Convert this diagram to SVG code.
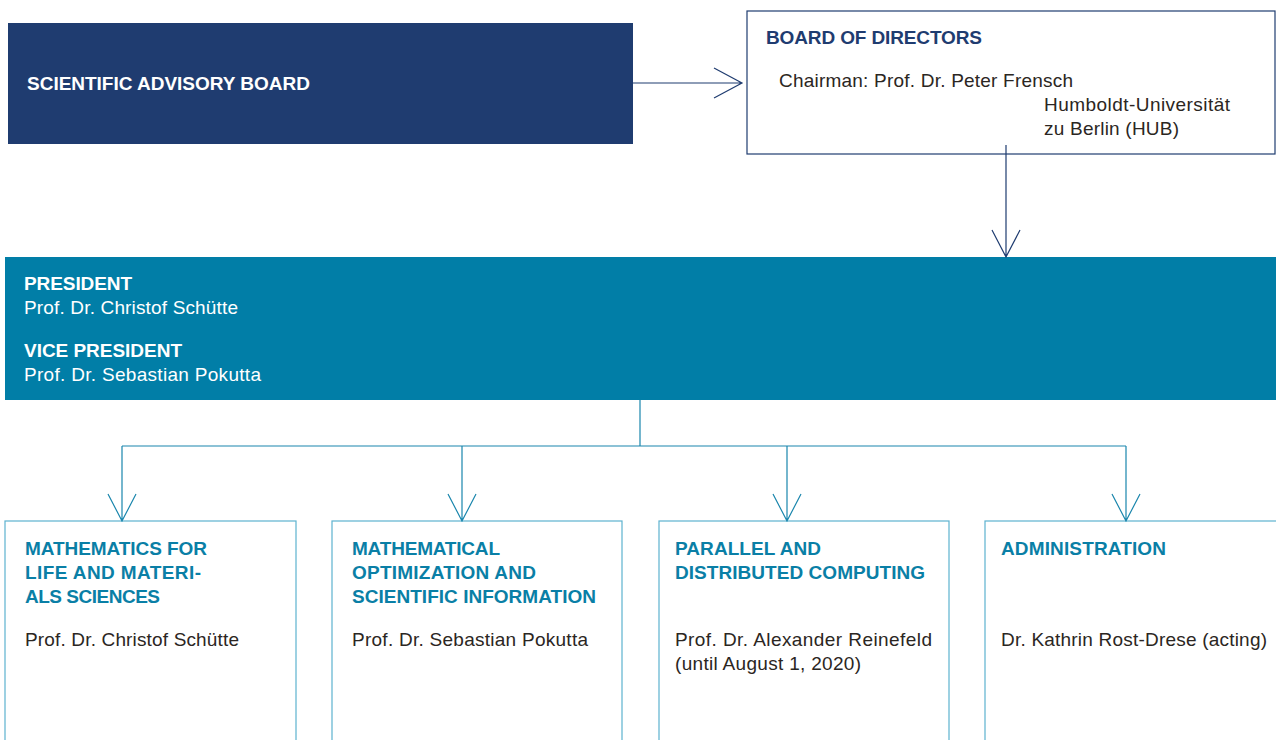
<svg xmlns="http://www.w3.org/2000/svg" width="1276" height="740" viewBox="0 0 1276 740">
<style>
text{lengthAdjust:spacing}
.h{font-family:"Liberation Sans",Arial,sans-serif;font-weight:bold;font-size:19px}
.t{font-family:"Liberation Sans",Arial,sans-serif;font-size:19px;fill:#2b2622}
.w{fill:#ffffff}
.navy{fill:#1f3c70}
.teal{fill:#0a7fa6}
.cn{fill:none;stroke:#1f3c70;stroke-width:1.2}
.ct{fill:none;stroke:#1a86ad;stroke-width:1.2}
.unit{fill:#ffffff;stroke:#5db2cf;stroke-width:1.2}
</style>
<rect width="1276" height="740" fill="#ffffff"/>
<g id="sab">
<rect x="8" y="23" width="625" height="121" fill="#1f3c70"/>
<text class="h w" x="27" y="90" textLength="283" lengthAdjust="spacing">SCIENTIFIC ADVISORY BOARD</text>
</g>
<g id="board">
<rect x="747" y="11" width="528" height="143" fill="#ffffff" stroke="#1f3c70" stroke-width="1.2"/>
<text class="h navy" x="766" y="44" textLength="216" lengthAdjust="spacing">BOARD OF DIRECTORS</text>
<text class="t" x="779" y="87" textLength="294" lengthAdjust="spacing">Chairman: Prof. Dr. Peter Frensch</text>
<text class="t" x="1044" y="111" textLength="186" lengthAdjust="spacing">Humboldt-Universität</text>
<text class="t" x="1044" y="135" textLength="135" lengthAdjust="spacing">zu Berlin (HUB)</text>
</g>
<g id="president">
<rect x="5" y="257" width="1271" height="143" fill="#017ea7"/>
<text class="h w" x="24" y="290" textLength="108" lengthAdjust="spacing">PRESIDENT</text>
<text class="t w" x="24" y="314" textLength="214" lengthAdjust="spacing">Prof. Dr. Christof Schütte</text>
<text class="h w" x="24" y="357" textLength="158" lengthAdjust="spacing">VICE PRESIDENT</text>
<text class="t w" x="24" y="381" textLength="237" lengthAdjust="spacing">Prof. Dr. Sebastian Pokutta</text>
</g>
<g id="mls">
<rect x="5" y="521" width="291" height="230" class="unit"/>
<text class="h teal" x="25" y="555" textLength="182" lengthAdjust="spacing">MATHEMATICS FOR</text>
<text class="h teal" x="25" y="579" textLength="176" lengthAdjust="spacing">LIFE AND MATERI-</text>
<text class="h teal" x="25" y="603" textLength="135" lengthAdjust="spacing">ALS SCIENCES</text>
<text class="t" x="25" y="646" textLength="214" lengthAdjust="spacing">Prof. Dr. Christof Schütte</text>
</g>
<g id="mosi">
<rect x="332" y="521" width="290" height="230" class="unit"/>
<text class="h teal" x="352" y="555" textLength="148" lengthAdjust="spacing">MATHEMATICAL</text>
<text class="h teal" x="352" y="579" textLength="184" lengthAdjust="spacing">OPTIMIZATION AND</text>
<text class="h teal" x="352" y="603" textLength="244" lengthAdjust="spacing">SCIENTIFIC INFORMATION</text>
<text class="t" x="352" y="646" textLength="236" lengthAdjust="spacing">Prof. Dr. Sebastian Pokutta</text>
</g>
<g id="pdc">
<rect x="659" y="521" width="290" height="230" class="unit"/>
<text class="h teal" x="675" y="555" textLength="146" lengthAdjust="spacing">PARALLEL AND</text>
<text class="h teal" x="675" y="579" textLength="250" lengthAdjust="spacing">DISTRIBUTED COMPUTING</text>
<text class="t" x="675" y="646" textLength="257" lengthAdjust="spacing">Prof. Dr. Alexander Reinefeld</text>
<text class="t" x="675" y="670" textLength="186" lengthAdjust="spacing">(until August 1, 2020)</text>
</g>
<g id="admin">
<rect x="985" y="521" width="295" height="230" class="unit"/>
<text class="h teal" x="1001" y="555" textLength="165" lengthAdjust="spacing">ADMINISTRATION</text>
<text class="t" x="1001" y="646" textLength="266" lengthAdjust="spacing">Dr. Kathrin Rost-Drese (acting)</text>
</g>
<g id="connectors">
<path class="cn" d="M633 83H742M714 68L742 83L714 98"/>
<path class="cn" d="M1006 145V257M992 230L1006 257L1020 230"/>
<path class="ct" d="M640 400V446M122 446H1126"/>
<path class="ct" d="M122 446V521M108 494L122 521L136 494"/>
<path class="ct" d="M462 446V521M448 494L462 521L476 494"/>
<path class="ct" d="M787 446V521M773 494L787 521L801 494"/>
<path class="ct" d="M1126 446V521M1112 494L1126 521L1140 494"/>
</g>
</svg>
